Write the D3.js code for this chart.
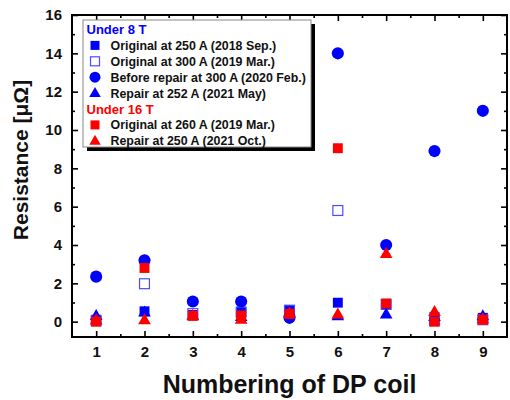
<!DOCTYPE html>
<html><head><meta charset="utf-8">
<script src="https://cdn.jsdelivr.net/npm/d3@7"></script>
<style>body{margin:0;background:#fff}svg{display:block;font-family:"Liberation Sans",Arial,sans-serif;font-weight:bold}</style>
</head><body><svg id="c" width="510" height="400"></svg>
<script>
const coils = [1,2,3,4,5,6,7,8,9];
const origSep250_8T  = [0.1, 0.54, 0.35, 0.52, 0.6, 0.99, 0.9, 0.25, 0.2];
const origMar300_8T  = [0.05, 1.98, 0.42, 0.5, 0.6, 5.8, 0.9, 0.05, 0.1];
const beforeRepair_8T = [2.35, 3.2, 1.05, 1.05, 0.2, 14.0, 4.0, 8.9, 11.0];
const repairMay_8T   = [0.32, 0.5, 0.3, 0.27, 0.5, 0.3, 0.4, 0.27, 0.3];
const origMar260_16T = [0.0, 2.8, 0.3, 0.32, 0.4, 9.05, 0.95, 0.0, 0.1];
const repairOct_16T  = [0.1, 0.1, 0.32, 0.12, 0.45, 0.4, 3.55, 0.52, 0.15];
const yTicks = [0,2,4,6,8,10,12,14,16];

const series = [
  {name:"Original at 250 A (2018 Sep.)", vals:origSep250_8T, shape:"square", color:"#0000ff", fill:true},
  {name:"Original at 300 A (2019 Mar.)", vals:origMar300_8T, shape:"square", color:"#4d4dff", fill:false},
  {name:"Before repair at 300 A (2020 Feb.)", vals:beforeRepair_8T, shape:"circle", color:"#0000ff", fill:true},
  {name:"Repair at 252 A (2021 May)", vals:repairMay_8T, shape:"triangle", color:"#0000ff", fill:true},
  {name:"Original at 260 A (2019 Mar.)", vals:origMar260_16T, shape:"square", color:"#ff0000", fill:true},
  {name:"Repair at 250 A (2021 Oct.)", vals:repairOct_16T, shape:"triangle", color:"#ff0000", fill:true}
];

const svg = d3.select("#c");
const L=72, R=507, T=15, B=337;
const x = d3.scaleLinear().domain([0.5,9.5]).range([L,R]);
const y = d3.scaleLinear().domain([-0.8,16]).range([B,T]);

function marker(sel, shape, color, fill, size, legend){
  if(shape==="circle"){
    sel.append("circle").attr("r",size*0.55).attr("fill",color);
  } else if(shape==="square"){
    const s=size*0.9;
    sel.append("rect").attr("x",-s/2).attr("y",-s/2).attr("width",s).attr("height",s)
      .attr("fill",fill?color:(legend?"#fff":"none")).attr("stroke",color).attr("stroke-width",fill?0:1.2);
  } else {
    const h=size*1.0, w=size*1.15;
    sel.append("path").attr("d",`M0,${-h*0.6}L${w/2},${h*0.4}L${-w/2},${h*0.4}Z`).attr("fill",color);
  }
}

// points
series.forEach(s=>{
  const g = svg.append("g");
  s.vals.forEach((v,i)=>{
    const m = g.append("g").attr("transform",`translate(${x(coils[i])},${y(v)})`);
    marker(m,s.shape,s.color,s.fill,11,false);
  });
});

// axes (ticks inward)
const ax = svg.append("g");
const minorX = d3.range(1.5,9.5,1), minorY = d3.range(1,16,2);
ax.append("g").attr("transform",`translate(0,${B})`)
  .call(d3.axisBottom(x).tickValues(coils).tickSize(-6).tickPadding(9).tickFormat(d3.format("d")));
ax.append("g").attr("transform",`translate(0,${B})`)
  .call(d3.axisBottom(x).tickValues(minorX).tickSize(-3).tickFormat(""));
ax.append("g").attr("transform",`translate(0,${T})`)
  .call(d3.axisTop(x).tickValues(coils).tickSize(-6).tickFormat(""));
ax.append("g").attr("transform",`translate(0,${T})`)
  .call(d3.axisTop(x).tickValues(minorX).tickSize(-3).tickFormat(""));
ax.append("g").attr("transform",`translate(${L},0)`)
  .call(d3.axisLeft(y).tickValues(yTicks).tickSize(-6).tickPadding(10).tickFormat(d3.format("d")));
ax.append("g").attr("transform",`translate(${L},0)`)
  .call(d3.axisLeft(y).tickValues(minorY).tickSize(-3).tickFormat(""));
ax.append("g").attr("transform",`translate(${R},0)`)
  .call(d3.axisRight(y).tickValues(yTicks).tickSize(-6).tickFormat(""));
ax.append("g").attr("transform",`translate(${R},0)`)
  .call(d3.axisRight(y).tickValues(minorY).tickSize(-3).tickFormat(""));
ax.selectAll(".domain").remove();
ax.selectAll(".tick line").attr("stroke","#000").attr("stroke-width",1.6);
ax.selectAll(".tick text").attr("font-size",15).attr("font-weight","bold")
  .attr("font-family","'Liberation Sans',Arial,sans-serif").attr("fill","#111");
svg.append("rect").attr("x",L).attr("y",T).attr("width",R-L).attr("height",B-T)
  .attr("fill","none").attr("stroke","#000").attr("stroke-width",2);

// axis titles
svg.append("text").attr("x",(L+R)/2).attr("y",393).attr("text-anchor","middle")
  .attr("font-size",25).attr("fill","#111").text("Numbering of DP coil");
svg.append("text").attr("transform",`translate(28,160) rotate(-90)`).attr("text-anchor","middle")
  .attr("font-size",21).attr("fill","#111").text("Resistance [μΩ]");

// legend
const lg = svg.append("g").attr("transform","translate(83,20)");
const lw=228, lh=127;
lg.append("rect").attr("x",4).attr("y",4).attr("width",lw).attr("height",lh).attr("fill","#000");
lg.append("rect").attr("x",0).attr("y",0).attr("width",lw).attr("height",lh).attr("fill","#fff")
  .attr("stroke","#888").attr("stroke-width",1);
const rows = [
  {head:"Under 8 T", color:"#0000ff"},
  series[0],series[1],series[2],series[3],
  {head:"Under 16 T", color:"#ff0000"},
  series[4],series[5]
];
rows.forEach((r,i)=>{
  const cy = 9.5 + i*15.9;
  if(r.head){
    lg.append("text").attr("x",3.5).attr("y",cy+4.5).attr("font-size",13).attr("fill",r.color).text(r.head);
  } else {
    const m = lg.append("g").attr("transform",`translate(12,${cy})`);
    marker(m,r.shape,r.color,r.fill,10,true);
    lg.append("text").attr("x",27.5).attr("y",cy+4.5).attr("font-size",12.4).attr("fill","#111").text(r.name);
  }
});
</script></body></html>
